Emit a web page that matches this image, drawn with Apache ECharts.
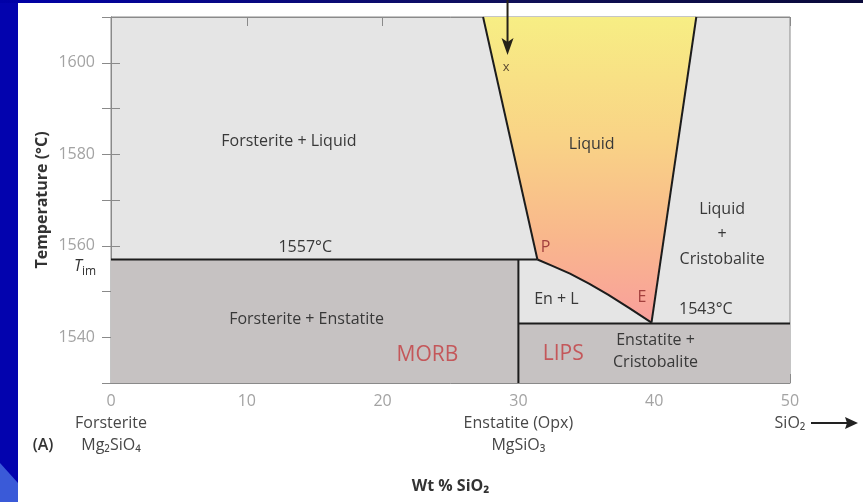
<!DOCTYPE html>
<html>
<head>
<meta charset="utf-8">
<script src="https://cdn.jsdelivr.net/npm/echarts@6/dist/echarts.min.js"></script>
<style>
  html, body { margin: 0; padding: 0; }
  body { width: 863px; height: 502px; position: relative; overflow: hidden; background: #0303ae; }
  #topband { position: absolute; left: 0; top: 0; width: 863px; height: 3px;
             background: linear-gradient(to right, #0000a8, #101058 60%, #0a0a3a); }
  #panel { position: absolute; left: 18px; top: 3px; width: 845px; height: 499px; background: #ffffff; }
  #corner { position: absolute; left: 0; top: 460px; width: 18px; height: 42px; background: #3a5ad8;
            clip-path: polygon(0 3px, 18px 23px, 18px 42px, 0 42px); }
  #chart { position: absolute; left: 0; top: 0; width: 863px; height: 502px; }
</style>
</head>
<body>
<div id="topband"></div>
<div id="panel"></div>
<div id="corner"></div>
<div id="chart"></div>
<script>
// MgO–SiO2 phase diagram, forsterite–silica portion
const FONT = '"Open Sans", "Noto Sans", sans-serif';

// axis ranges (wt % SiO2, temperature °C)
const xRange = [0, 50];
const yRange = [1530, 1610];

// invariant temperatures and the enstatite composition
const peritecticT = 1557;
const eutecticT = 1543;
const enstatiteX = 30;

// phase boundaries
const leftLiquidus = [[27.4, 1610], [31.4, 1557]];
const peritecticCurve = [
  [31.4, 1557], [32.5, 1555.6], [33.8, 1553.9], [35.2, 1551.7],
  [36.6, 1549.3], [38.2, 1546.3], [39.8, 1543.2]
];
const rightLiquidus = [[39.8, 1543.2], [43.1, 1610]];

// end-member names under the composition axis
const endMemberX = [0, 30, 50];
const endMemberNames = [['Forsterite', 'Mg₂SiO₄'], ['Enstatite (Opx)', 'MgSiO₃'], ['SiO₂']];

// field labels: text, x, y
const fieldLabels = [
  ['Forsterite + Liquid', 13.1, 1582.8],
  ['Liquid', 35.4, 1582.1],
  ['Forsterite + Enstatite', 14.4, 1544.0],
  ['En + L', 32.8, 1548.2]
];
const stackedLabels = [
  ['Liquid\n+\nCristobalite', 45.0, 1562.4]
];
const stackedLabels2 = [
  ['Enstatite +\nCristobalite', 40.1, 1537.0]
];
const tempLabels = [['1557°C', 14.3, 1559.6], ['1543°C', 43.8, 1546.0]];
const pointLabels = [['P', 32.0, 1559.6], ['E', 39.1, 1548.7]];
const settingLabels = [['MORB', 23.3, 1536.2], ['LIPS', 33.3, 1536.4]];

// cooling path of a melt starting at composition x
const coolingPath = { x: 29.2, from: 1614, to: 1601.7 };
const startPoint = [['x', 29.1, 1598.9]];

const chart = echarts.init(document.getElementById('chart'), null, { renderer: 'canvas' });

// subsolidus field: Fo + En left of enstatite, En + Crs right of it
const subsolidus = [
  [xRange[0], yRange[0]], [xRange[0], peritecticT], [enstatiteX, peritecticT],
  [enstatiteX, eutecticT], [xRange[1], eutecticT], [xRange[1], yRange[0]]
];
const liquidField = leftLiquidus.concat(peritecticCurve.slice(1), rightLiquidus.slice(1));

function polygonSeries(name, pts, fill) {
  return {
    type: 'custom', name, coordinateSystem: 'cartesian2d', silent: true, z: 1,
    data: [pts[0]],
    renderItem: (params, api) => ({
      type: 'polygon',
      shape: { points: pts.map(p => api.coord(p)) },
      style: { fill }
    })
  };
}

function boundarySeries(name, pts) {
  return {
    type: 'line', name, data: pts, symbol: 'none', silent: true, z: 3,
    lineStyle: { color: '#1c1c1c', width: 2 }
  };
}

function textSeries(name, rows, style) {
  return {
    type: 'custom', name, coordinateSystem: 'cartesian2d', silent: true, z: 5,
    data: rows.map(r => [r[1], r[2]]),
    renderItem: (params, api) => {
      const p = api.coord([api.value(0), api.value(1)]);
      return {
        type: 'text', x: p[0], y: p[1],
        style: Object.assign({
          text: rows[params.dataIndex][0], align: 'center', verticalAlign: 'middle',
          fontFamily: FONT, fontSize: 16, fill: '#383838'
        }, style)
      };
    }
  };
}

const option = {
  animation: false,
  grid: {
    left: 111, right: 73, top: 17, bottom: 119,
    show: true, backgroundColor: '#e5e5e5', borderColor: '#8a8a8a', borderWidth: 1
  },
  xAxis: [{
    type: 'value', min: xRange[0], max: xRange[1], interval: 10, position: 'bottom',
    name: 'Wt % SiO₂', nameLocation: 'middle', nameGap: 95,
    nameTextStyle: { fontFamily: FONT, fontSize: 16, fontWeight: 'bold', color: '#333' },
    axisLine: { lineStyle: { color: '#8a8a8a' } },
    axisTick: { inside: true, length: 9, lineStyle: { color: '#8a8a8a' } },
    splitLine: { show: false },
    axisLabel: {
      margin: 8,
      formatter: v => {
        const i = endMemberX.indexOf(v);
        if (i < 0) return '{n|' + v + '}';
        return '{n|' + v + '}\n' + endMemberNames[i].map(s => '{c|' + s + '}').join('\n');
      },
      rich: {
        n: { fontFamily: FONT, fontSize: 16, color: '#a3a3a3', lineHeight: 21 },
        c: { fontFamily: FONT, fontSize: 16, color: '#474747', lineHeight: 22 }
      }
    }
  }, {
    type: 'value', min: xRange[0], max: xRange[1], interval: 10, position: 'top',
    axisLine: { lineStyle: { color: '#8a8a8a' } },
    axisTick: { inside: true, length: 9, lineStyle: { color: '#8a8a8a' } },
    axisLabel: { show: false }, splitLine: { show: false }
  }],
  yAxis: [{
    type: 'value', min: yRange[0], max: yRange[1], interval: 10, position: 'left',
    name: 'Temperature (°C)', nameLocation: 'middle', nameGap: 61, nameMoveOverlap: false,
    nameTextStyle: { fontFamily: FONT, fontSize: 16, fontWeight: 'bold', color: '#333' },
    axisLine: { lineStyle: { color: '#8a8a8a' } },
    axisTick: { inside: true, length: 9, lineStyle: { color: '#8a8a8a' } },
    splitLine: { show: false },
    axisLabel: {
      margin: 16, fontFamily: FONT, fontSize: 16, color: '#a3a3a3',
      formatter: v => (v % 20 === 0 ? String(v) : '')
    }
  }, {
    type: 'value', min: yRange[0], max: yRange[1], interval: 10, position: 'right',
    axisLine: { lineStyle: { color: '#8a8a8a' } },
    axisTick: { inside: true, length: 9, lineStyle: { color: '#8a8a8a' } },
    axisLabel: { show: false }, splitLine: { show: false }
  }],
  series: [
    polygonSeries('subsolidus', subsolidus, '#c6c2c2'),
    polygonSeries('liquid', liquidField, new echarts.graphic.LinearGradient(0, 0, 0, 1, [
      { offset: 0, color: '#f7ee84' },
      { offset: 0.4, color: '#f9d386' },
      { offset: 0.72, color: '#f9b78c' },
      { offset: 1, color: '#f99f9c' }
    ])),
    boundarySeries('peritectic isotherm', [[xRange[0], peritecticT], peritecticCurve[0]]),
    boundarySeries('enstatite', [[enstatiteX, yRange[0]], [enstatiteX, peritecticT]]),
    boundarySeries('eutectic isotherm', [[enstatiteX, eutecticT], [xRange[1], eutecticT]]),
    boundarySeries('left liquidus', leftLiquidus),
    boundarySeries('En + L boundary', peritecticCurve),
    boundarySeries('right liquidus', rightLiquidus),
    textSeries('fields', fieldLabels, {}),
    textSeries('fields stacked', stackedLabels, { lineHeight: 25 }),
    textSeries('fields stacked 2', stackedLabels2, { lineHeight: 22 }),
    textSeries('temperatures', tempLabels, {}),
    textSeries('points', pointLabels, { fill: '#a3403e' }),
    textSeries('settings', settingLabels, { fontSize: 21, fill: '#c4575a' }),
    textSeries('start', startPoint, { fontSize: 13, fill: '#5b4a30' }),
    {
      // cooling path arrow
      type: 'custom', name: 'cooling path', coordinateSystem: 'cartesian2d', silent: true, z: 6,
      data: [[coolingPath.x, coolingPath.to]],
      renderItem: (params, api) => {
        const a = api.coord([coolingPath.x, coolingPath.from]);
        const b = api.coord([coolingPath.x, coolingPath.to]);
        return {
          type: 'group', children: [
            { type: 'line', shape: { x1: a[0], y1: a[1], x2: b[0], y2: b[1] - 12 },
              style: { stroke: '#262218', lineWidth: 2 } },
            { type: 'polygon', shape: { points: [[b[0] - 6, b[1] - 17], [b[0], b[1] - 13], [b[0] + 6, b[1] - 17], [b[0], b[1]]] },
              style: { fill: '#262218' } }
          ]
        };
      }
    },
    {
      // melting-temperature marker, panel letter and silica arrow
      type: 'custom', name: 'annotations', coordinateSystem: 'cartesian2d', silent: true, z: 6,
      data: [[xRange[0], peritecticT]],
      renderItem: (params, api) => {
        const t = api.coord([xRange[0], peritecticT]);
        const o = api.coord([xRange[0], yRange[0]]);
        const s = api.coord([xRange[1], yRange[0]]);
        const ay = o[1] + 40;
        return {
          type: 'group', children: [
            { type: 'text', x: t[0] - 29, y: t[1] + 7,
              style: { text: 'T', align: 'right', verticalAlign: 'middle', fontFamily: FONT,
                       fontSize: 16, fontStyle: 'italic', fill: '#333' } },
            { type: 'text', x: t[0] - 29, y: t[1] + 12,
              style: { text: 'im', align: 'left', verticalAlign: 'middle', fontFamily: FONT,
                       fontSize: 12, fill: '#333' } },
            { type: 'text', x: o[0] - 68, y: o[1] + 62,
              style: { text: '(A)', align: 'center', verticalAlign: 'middle', fontFamily: FONT,
                       fontSize: 16, fontWeight: 600, fill: '#333' } },
            { type: 'line', shape: { x1: s[0] + 21, y1: ay, x2: s[0] + 58, y2: ay },
              style: { stroke: '#222', lineWidth: 2 } },
            { type: 'polygon', shape: { points: [[s[0] + 55, ay - 6], [s[0] + 68, ay], [s[0] + 55, ay + 6], [s[0] + 57, ay]] },
              style: { fill: '#222' } }
          ]
        };
      }
    }
  ]
};

chart.setOption(option);
</script>
</body>
</html>
